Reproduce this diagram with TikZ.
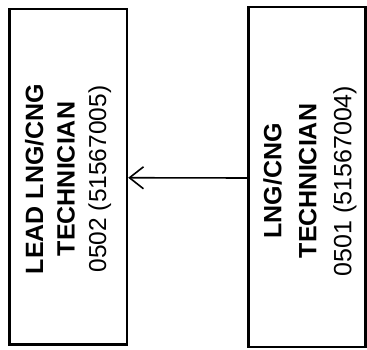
\documentclass[tikz,border=0pt]{standalone}
\usepackage{fontspec}
\setmainfont{Liberation Sans}
\usetikzlibrary{arrows.meta}
\tikzset{
  posbox/.style={draw=black, line width=2.4pt, rectangle, inner sep=0pt},
  boxtext/.style={rotate=90, align=center, inner sep=0pt, font=\fontsize{25}{31.5}\selectfont},
  reportline/.style={line width=1.6pt, -{Straight Barb[length=14pt,width=22pt,line width=1.6pt]}}
}
\begin{document}
\begin{tikzpicture}[x=1pt,y=1pt]
\useasboundingbox (0,0) rectangle (367,350);
\node[posbox, minimum width=117.5pt, minimum height=335.5pt] (lead) at (68.25,173.25) {};
\node[posbox, minimum width=117pt, minimum height=340pt] (tech) at (307,173) {};
\node[boxtext] (leadtext) at (68,171) {\textbf{LEAD LNG/CNG}\\\textbf{TECHNICIAN}\\{\fontsize{24.5}{31.5}\selectfont 0502 (51567005)}};
\node[boxtext, font=\fontsize{25}{35}\selectfont] (techtext) at (310,169) {\textbf{LNG/CNG}\\\textbf{TECHNICIAN}\\{\fontsize{25}{35}\selectfont 0501 (51567004)}};
\draw[reportline] ([yshift=-1pt]tech.west) -- ([yshift=-1pt]lead.east);
\end{tikzpicture}
\end{document}
